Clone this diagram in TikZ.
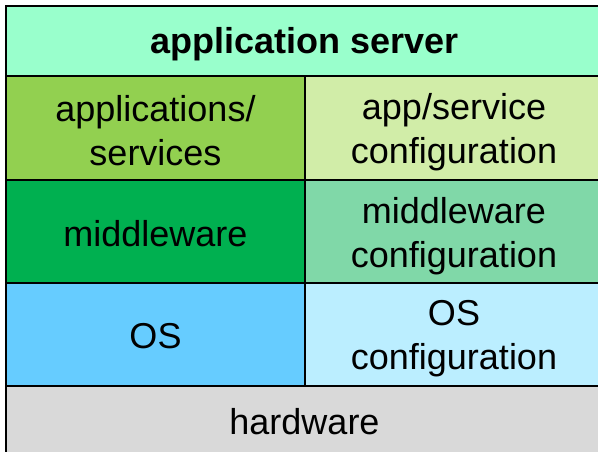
\documentclass[tikz,border=0pt]{standalone}
\usepackage{fontspec}
\setmainfont{Liberation Sans}
\definecolor{topc}{HTML}{99FFCC}
\definecolor{appc}{HTML}{92D050}
\definecolor{appcfg}{HTML}{D1EDA8}
\definecolor{midc}{HTML}{00B050}
\definecolor{midcfg}{RGB}{128,216,168}
\definecolor{osc}{HTML}{66CCFF}
\definecolor{oscfg}{HTML}{BBEEFF}
\definecolor{hwc}{HTML}{D9D9D9}
\begin{document}
\begin{tikzpicture}[x=1pt,y=-1pt,
  cell/.style={draw=black,line width=2pt,inner sep=0pt,align=center,
    font=\fontsize{36}{43}\selectfont},
  lbl/.style={align=center,font=\fontsize{36}{43.5}\selectfont,inner sep=0pt}]
\useasboundingbox (0,0) rectangle (598,452);
\fill[white] (0,0) rectangle (598,452);
\path[cell,fill=topc] (6,6) rectangle (603,76);
\path[cell,fill=appc] (6,76) rectangle (305,180);
\path[cell,fill=appcfg] (305,76) rectangle (603,180);
\path[cell,fill=midc] (6,180) rectangle (305,283);
\path[cell,fill=midcfg] (305,180) rectangle (603,283);
\path[cell,fill=osc] (6,283) rectangle (305,386);
\path[cell,fill=oscfg] (305,283) rectangle (603,386);
\path[cell,fill=hwc] (6,386) rectangle (603,460);
\node[lbl,font=\fontsize{36}{43}\selectfont\bfseries] (srv) at (304.5,44.5) {application server};
\node[lbl] (app) at (155.5,130.5) {applications/\\services};
\node[lbl] (appconf) at (454,132) {app/service\\configuration};
\node[lbl] (mid) at (155.5,233.5) {middleware};
\node[lbl] (midconf) at (454,236) {middleware\\configuration};
\node[lbl] (os) at (155.5,336) {OS};
\node[lbl] (osconf) at (454,338.5) {OS\\configuration};
\node[lbl] (hw) at (304.5,422) {hardware};
\end{tikzpicture}
\end{document}
